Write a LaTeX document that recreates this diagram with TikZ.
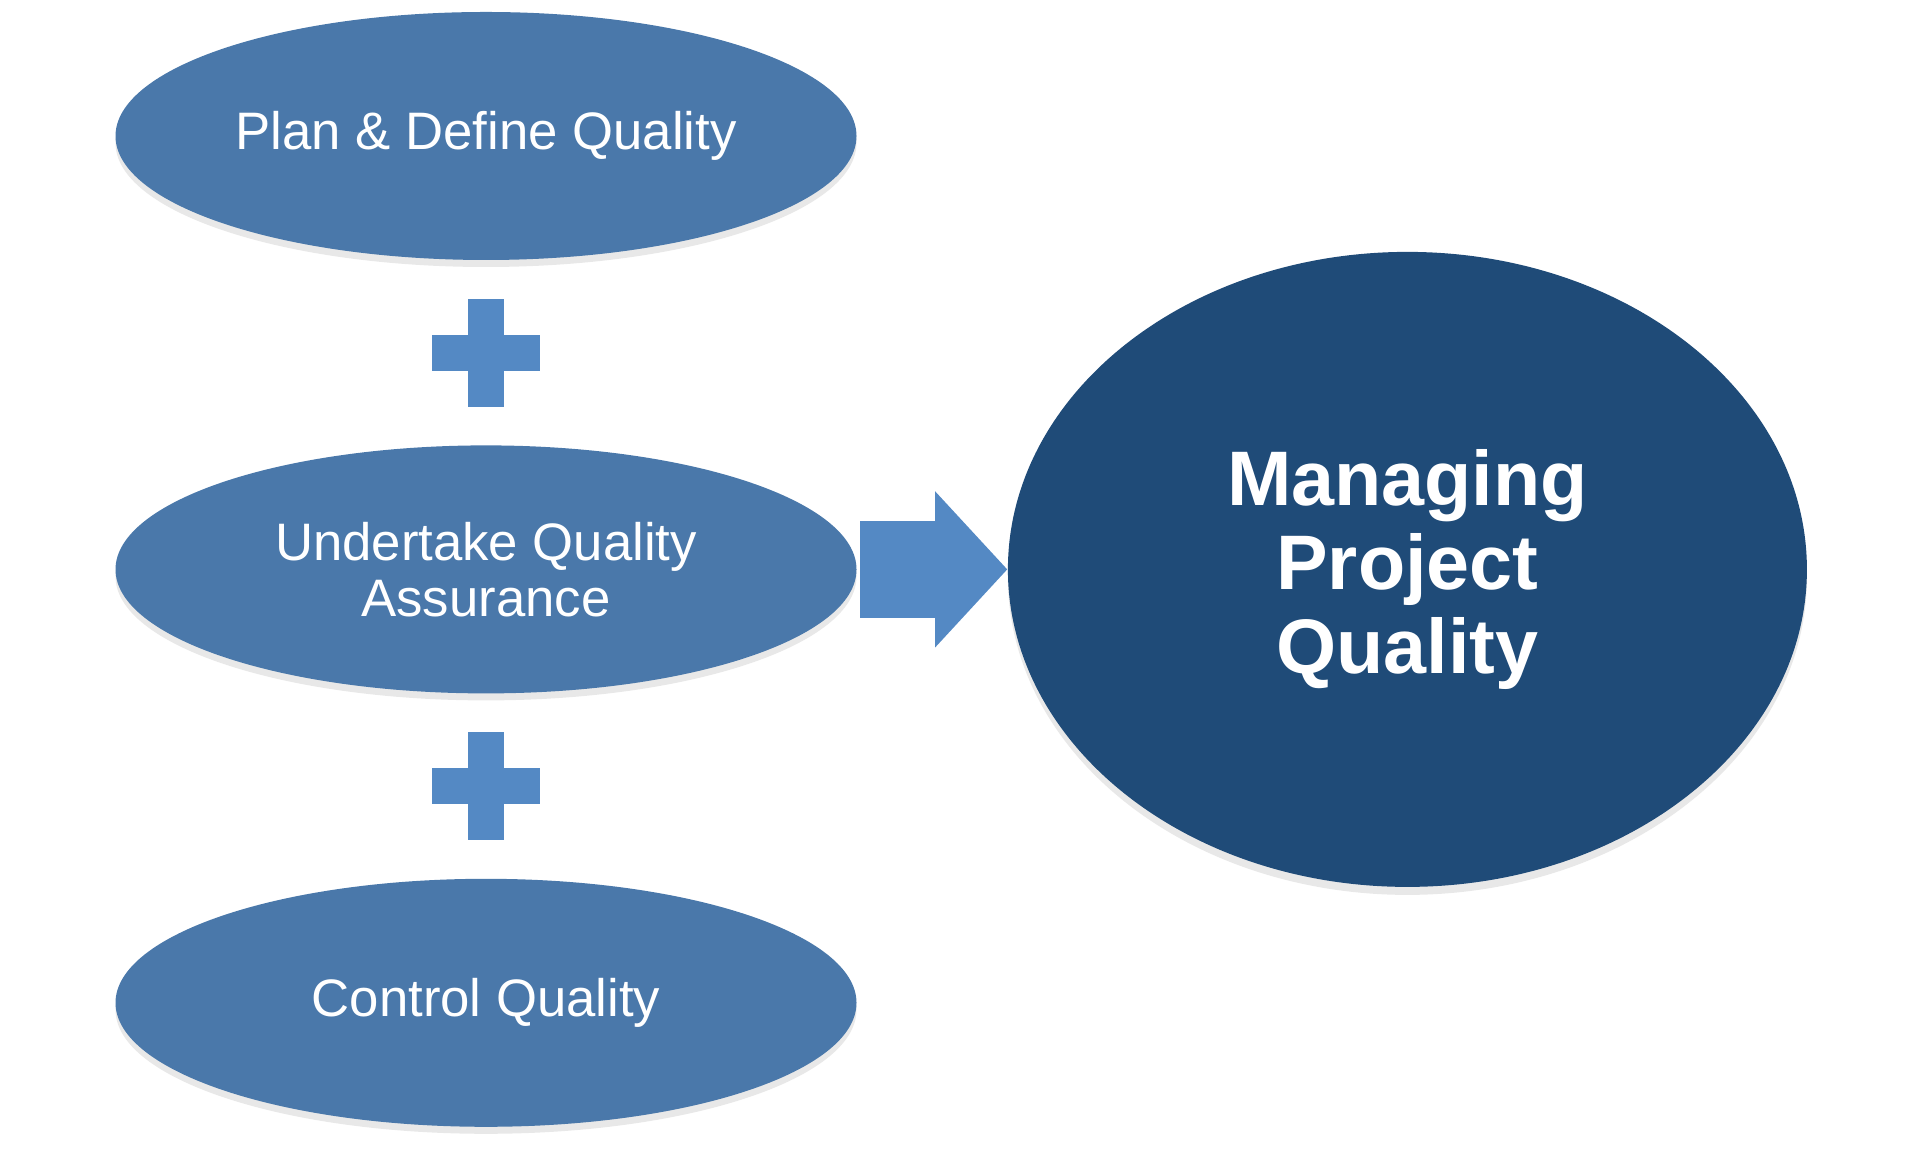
\documentclass[tikz,border=0pt]{standalone}
\usepackage{fontspec}
\setmainfont{Liberation Sans}
\usepackage{xcolor}
\usetikzlibrary{shapes.geometric, arrows.meta, positioning, calc, shadows}

\definecolor{stepblue}{HTML}{4A78AA}
\definecolor{plusblue}{HTML}{5489C4}
\definecolor{goalblue}{HTML}{1F4B78}

\begin{document}
\begin{tikzpicture}[
    node distance=1.84cm and 1.5cm,
    stage/.style={ellipse, fill=stepblue, text=white, minimum width=7.41cm, minimum height=2.48cm, inner sep=0pt, align=center, font=\fontsize{15}{16}\selectfont, drop shadow={shadow xshift=0pt, shadow yshift=-0.07cm, opacity=0.18}},
    goal/.style={ellipse, fill=goalblue, text=white, minimum width=7.99cm, minimum height=6.35cm, inner sep=0pt, align=center, font=\fontsize{22}{24}\selectfont\bfseries, drop shadow={shadow xshift=0pt, shadow yshift=-0.08cm, opacity=0.18}},
    plussign/.pic={
        \fill[plusblue] (-0.54,-0.18) rectangle (0.54,0.18);
        \fill[plusblue] (-0.18,-0.54) rectangle (0.18,0.54);
    },
    bigarrow/.style={draw=plusblue, line width=0.97cm, shorten <=0.03cm, -{Triangle[length=0.72cm, width=1.56cm, line width=0pt]}}
]
\useasboundingbox (0,0) rectangle (19.2,11.49);

% Left column
\node[stage] (plan) at (4.86,10.13) {Plan \& Define Quality};
\node[stage, below=of plan] (assure) {Undertake Quality\\Assurance};
\node[stage, below=of assure] (control) {Control Quality};

% Plus signs between the ellipses
\pic at ($(plan.south)!0.5!(assure.north)$) {plussign};
\pic at ($(assure.south)!0.5!(control.north)$) {plussign};

% Result
\node[goal, right=of assure] (manage) {Managing\\Project\\Quality};

% Arrow
\draw[bigarrow] (assure.east) -- (manage.west);

\end{tikzpicture}
\end{document}
